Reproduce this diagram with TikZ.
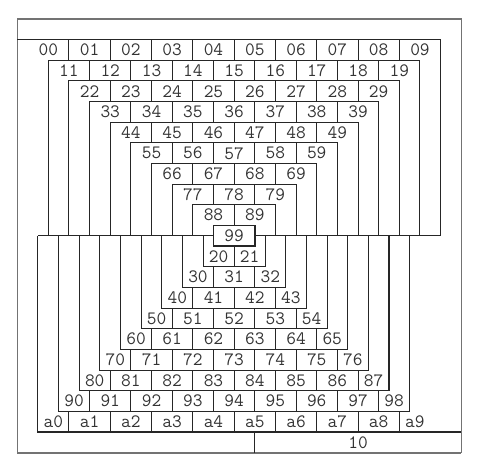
\documentclass[tikz,border=0pt]{standalone}
\usepackage{fontspec}
\tikzset{
	cell/.style={inner sep=0pt, font=\ttfamily\fontsize{13}{15}\selectfont, text=black!80},
	frame/.style={draw=black!85, line width=0.7pt},
	outer/.style={draw=black!55, line width=0.9pt}
}
\begin{document}
\begin{tikzpicture}[x=0.5cm, y=-0.5cm]
	\useasboundingbox (-0.838,-0.92) rectangle (22.455,21.89);
	% outer box
	\draw[outer] (0,0) rectangle (21.5,21);
	\draw[outer, line width=1.4pt] (0,21) -- (21.5,21);
	% upper frames
	\draw[frame] (0,1) -- (20.5,1) -- (20.5,10.5);
	\foreach \kk in {1,...,8}
		\draw[frame] ({\kk+0.5},10.5) |- ({20.5-\kk},{\kk+1}) -- ({20.5-\kk},10.5);
	\foreach \kk in {0,...,8}{
		\pgfmathtruncatemacro{\nn}{9-\kk}
		\foreach \jj in {1,...,\nn}
			\draw[frame] ({\kk+0.5+2*\jj},{\kk+1}) -- ({\kk+0.5+2*\jj},{\kk+2});
	}
	\foreach \kk in {0,...,9}{
		\foreach \jj in {\kk,...,9}
			\node[cell] (c\kk\jj) at ({\kk+1.5+2*(\jj-\kk)},{\kk+1.5}) {\kk\jj};
	}
	% 99 box and middle line
	\draw[frame, line width=1.2pt] (9.5,10) rectangle (11.5,11);
	\draw[frame] (1,10.5) -- (9.5,10.5) (11.5,10.5) -- (20.5,10.5);
	% lower frames
	\foreach \mm in {2,...,9}
		\draw[frame] ({11-\mm},10.5) |- ({10+\mm},{\mm+10}) -- ({10+\mm},10.5);
	\draw[frame] (1,10.5) |- (21.5,20);
	\foreach \mm in {2,...,10}{
		\pgfmathtruncatemacro{\nn}{\mm-2}
		\foreach \jj in {0,...,\nn}
			\draw[frame] ({12.5-\mm+2*\jj},{\mm+9}) -- ({12.5-\mm+2*\jj},{\mm+10});
	}
	\foreach \mm/\rr in {2/2,3/3,4/4,5/5,6/6,7/7,8/8,9/9,10/a}{
		\pgfmathtruncatemacro{\nn}{\mm-1}
		\foreach \ii in {0,...,\nn}{
			\pgfmathsetmacro{\cx}{\ii==0 ? 11.75-\mm : (\ii==\nn ? 9.25+\mm : 11.5-\mm+2*\ii)}
			\node[cell] (c\rr\ii) at (\cx,{\mm+9.5}) {\rr\ii};
		}
	}
	% last row
	\draw[frame] (11.5,20) -- (11.5,21);
	\node[cell] (c10) at (16.5,20.5) {10};
\end{tikzpicture}
\end{document}
